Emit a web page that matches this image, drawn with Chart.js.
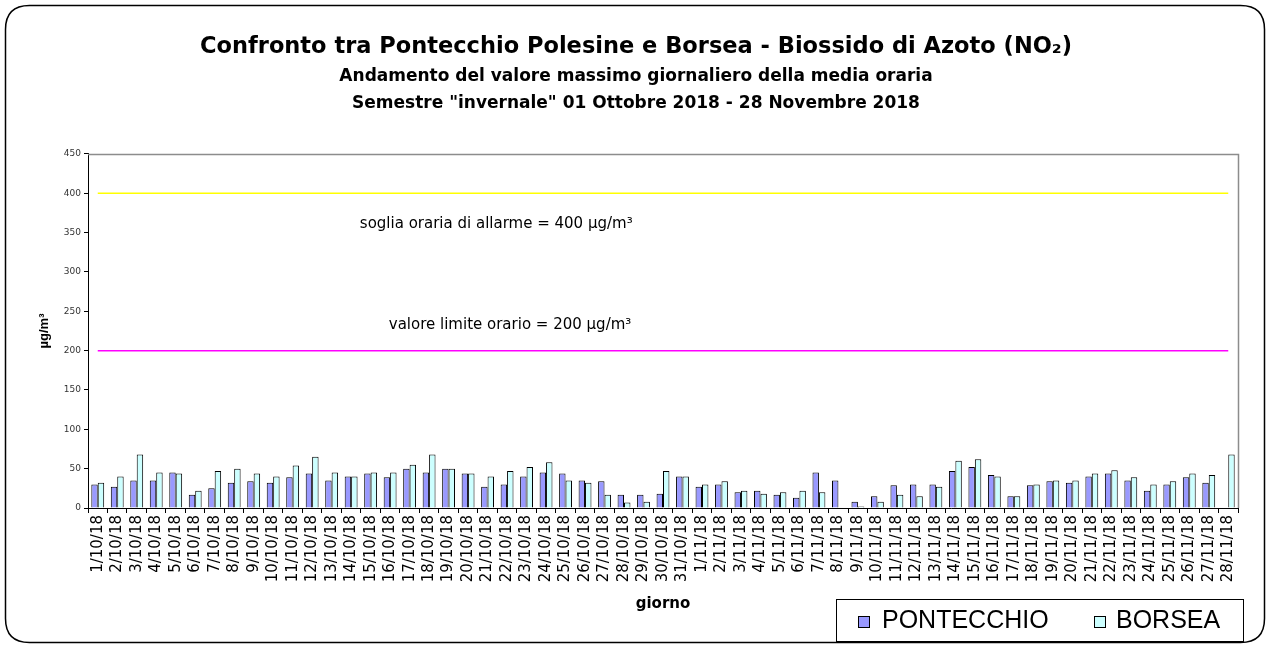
<!DOCTYPE html>
<html>
<head>
<meta charset="utf-8">
<script src="https://cdn.jsdelivr.net/npm/chart.js@4/dist/chart.umd.min.js"></script>
<style>
html,body{margin:0;padding:0;background:#fff;}
#wrap{width:1270px;height:647px;}
</style>
</head>
<body>
<div id="wrap"><canvas id="c" width="1270" height="647"></canvas></div>
<script>
const categories = ["1/10/18","2/10/18","3/10/18","4/10/18","5/10/18","6/10/18","7/10/18","8/10/18","9/10/18","10/10/18",
"11/10/18","12/10/18","13/10/18","14/10/18","15/10/18","16/10/18","17/10/18","18/10/18","19/10/18","20/10/18",
"21/10/18","22/10/18","23/10/18","24/10/18","25/10/18","26/10/18","27/10/18","28/10/18","29/10/18","30/10/18",
"31/10/18","1/11/18","2/11/18","3/11/18","4/11/18","5/11/18","6/11/18","7/11/18","8/11/18","9/11/18",
"10/11/18","11/11/18","12/11/18","13/11/18","14/11/18","15/11/18","16/11/18","17/11/18","18/11/18","19/11/18",
"20/11/18","21/11/18","22/11/18","23/11/18","24/11/18","25/11/18","26/11/18","27/11/18","28/11/18"];

const pontecchio = [30,27,35,35,45,17,25,32,34,32,39,44,35,40,44,
  39,50,45,50,44,27,30,40,45,44,35,34,17,17,18,
  40,27,30,20,22,17,13,45,35,8,15,29,30,30,47,
  52,42,15,29,34,32,40,44,35,22,30,39,32,null];

const borsea = [32,40,68,45,44,22,47,50,44,40,54,65,45,40,45,
  45,55,68,50,44,40,47,52,58,35,32,17,7,8,47,
  40,30,34,22,18,20,22,20,null,2,8,17,15,27,60,
  62,40,15,30,35,35,44,48,39,30,34,44,42,68];

const yTicks = [0,50,100,150,200,250,300,350,400,450];

const thresholdValues = [400, 200];
const thresholdColors = ["#ffff00", "#ff00ff"];
const thresholdLabels = ["soglia oraria di allarme = 400 µg/m³", "valore limite orario = 200 µg/m³"];
const thresholdLabelValues = [361, 232];
const thresholdLabelX = [0.355, 0.367];

const FONT = "'Liberation Sans', Arial, Helvetica, sans-serif";
const WFONT = "'DejaVu Sans', 'Liberation Sans', Arial, sans-serif";

const decorPlugin = {
  id: 'decor',
  beforeDraw(chart) {
    const ctx = chart.ctx;
    ctx.save();
    ctx.fillStyle = '#fff';
    ctx.fillRect(0, 0, chart.width, chart.height);
    const x = 5.5, y = 5.5, w = 1259, h = 637, r = 24;
    ctx.beginPath();
    ctx.moveTo(x + r, y);
    ctx.lineTo(x + w - r, y);
    ctx.quadraticCurveTo(x + w, y, x + w, y + r);
    ctx.lineTo(x + w, y + h - r);
    ctx.quadraticCurveTo(x + w, y + h, x + w - r, y + h);
    ctx.lineTo(x + r, y + h);
    ctx.quadraticCurveTo(x, y + h, x, y + h - r);
    ctx.lineTo(x, y + r);
    ctx.quadraticCurveTo(x, y, x + r, y);
    ctx.closePath();
    ctx.lineWidth = 1.5;
    ctx.strokeStyle = '#000';
    ctx.stroke();
    ctx.restore();
  },
  afterDatasetsDraw(chart) {
    const ctx = chart.ctx;
    const xs = chart.scales.x, ys = chart.scales.y;
    const area = chart.chartArea;
    ctx.save();
    ctx.strokeStyle = '#8c8c8c';
    ctx.lineWidth = 1.5;
    ctx.beginPath();
    ctx.moveTo(area.left, area.top + 0.5);
    ctx.lineTo(area.right + 0.5, area.top + 0.5);
    ctx.lineTo(area.right + 0.5, area.bottom);
    ctx.stroke();
    const x0 = xs.getPixelForValue(0);
    const x1 = xs.getPixelForValue(categories.length - 1);
    thresholdValues.forEach((v, i) => {
      const yy = ys.getPixelForValue(v);
      ctx.strokeStyle = thresholdColors[i];
      ctx.lineWidth = 1.5;
      ctx.beginPath();
      ctx.moveTo(x0, yy);
      ctx.lineTo(x1, yy);
      ctx.stroke();
      ctx.fillStyle = '#000';
      ctx.font = '15px ' + WFONT;
      ctx.textAlign = 'center';
      ctx.textBaseline = 'middle';
      const tx = area.left + (area.right - area.left) * thresholdLabelX[i];
      ctx.fillText(thresholdLabels[i], tx, ys.getPixelForValue(thresholdLabelValues[i]));
    });
    ctx.restore();
  },
  afterDraw(chart) {
    const ctx = chart.ctx;
    ctx.save();
    ctx.strokeStyle = '#000';
    ctx.lineWidth = 1;
    ctx.fillStyle = '#fff';
    ctx.fillRect(836.5, 599.5, 407, 42);
    ctx.strokeRect(836.5, 599.5, 407, 42);
    const items = chart.data.datasets;
    const sqX = [858.5, 1094.5];
    const txX = [882, 1116];
    ctx.font = '25px ' + FONT;
    ctx.textBaseline = 'middle';
    ctx.textAlign = 'left';
    items.forEach((ds, i) => {
      ctx.fillStyle = ds.backgroundColor;
      ctx.fillRect(sqX[i], 616.5, 11, 11);
      ctx.strokeStyle = '#000';
      ctx.strokeRect(sqX[i], 616.5, 11, 11);
      ctx.fillStyle = '#000';
      ctx.fillText(ds.label, txX[i], 621);
    });
    ctx.restore();
  }
};

new Chart(document.getElementById('c'), {
  type: 'bar',
  data: {
    labels: categories,
    datasets: [
      { label: 'PONTECCHIO', data: pontecchio, backgroundColor: '#9999ff', borderColor: '#000', borderWidth: 1, barPercentage: 1.0, categoryPercentage: 0.66 },
      { label: 'BORSEA', data: borsea, backgroundColor: '#ccffff', borderColor: '#000', borderWidth: 1, barPercentage: 1.0, categoryPercentage: 0.66 }
    ]
  },
  options: {
    responsive: false,
    animation: false,
    devicePixelRatio: 1,
    layout: { padding: { left: 34, right: 32, top: 0, bottom: 0 } },
    plugins: {
      legend: { display: false },
      tooltip: { enabled: false },
      title: {
        display: true,
        text: 'Confronto tra Pontecchio Polesine e Borsea - Biossido di Azoto (NO₂)',
        color: '#000',
        font: { family: WFONT, size: 22.5, weight: 'bold', lineHeight: 1.2 },
        padding: { top: 33.5, bottom: 3 }
      },
      subtitle: {
        display: true,
        text: ['Andamento del valore massimo giornaliero della media oraria', 'Semestre "invernale" 01 Ottobre 2018 - 28 Novembre 2018'],
        color: '#000',
        font: { family: WFONT, size: 17, weight: 'bold', lineHeight: 1.588 },
        padding: { top: 0, bottom: 36.5 }
      }
    },
    scales: {
      x: {
        afterFit(scale) { scale.height = 139; },
        grid: { display: true, offset: true, drawOnChartArea: false, tickLength: 5, color: '#000', lineWidth: 1 },
        border: { display: true, color: '#000', width: 1 },
        ticks: { autoSkip: false, maxRotation: 90, minRotation: 90, padding: 2, color: '#000', font: { family: WFONT, size: 15 } },
        title: { display: true, text: 'giorno', color: '#000', font: { family: WFONT, size: 15, weight: 'bold' }, padding: { top: 0, bottom: 34 } }
      },
      y: {
        min: 0, max: 450,
        afterFit(scale) { scale.width = 54; },
        afterBuildTicks(scale) { scale.ticks = yTicks.map(v => ({ value: v })); },
        grid: { display: true, drawOnChartArea: false, tickLength: 4, color: '#000', lineWidth: 1 },
        border: { display: true, color: '#000', width: 1 },
        ticks: { padding: 3, color: '#333', font: { family: WFONT, size: 9 } },
        title: { display: true, text: 'µg/m³', color: '#000', font: { family: FONT, size: 13, weight: 'bold' }, padding: { top: 3, bottom: 0 } }
      }
    }
  },
  plugins: [decorPlugin]
});
</script>
</body>
</html>
